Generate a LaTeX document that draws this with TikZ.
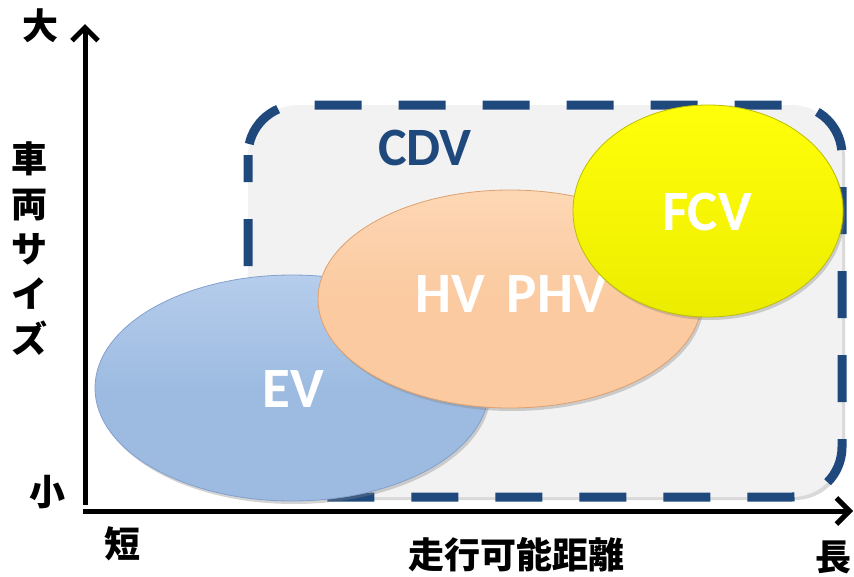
\documentclass[tikz,border=0pt]{standalone}
\usepackage{fontspec}
\setmainfont{Carlito}
\newfontfamily\jp{Noto Sans CJK JP}
\usetikzlibrary{arrows.meta,shadows,shapes.geometric}
\definecolor{cdvblue}{RGB}{31,73,125}
\definecolor{cdvfill}{RGB}{242,242,242}
\definecolor{evfill}{RGB}{157,187,225}
\definecolor{evtop}{RGB}{182,205,236}
\definecolor{evline}{RGB}{130,160,205}
\definecolor{hvfill}{RGB}{251,202,160}
\definecolor{hvtop}{RGB}{253,215,180}
\definecolor{hvline}{RGB}{222,160,110}
\definecolor{fcfill}{RGB}{236,236,0}
\definecolor{fctop}{RGB}{255,255,10}
\definecolor{fcline}{RGB}{190,190,0}
\tikzset{
  axisline/.style={line width=5pt, black, -{Straight Barb[length=13pt,width=26pt]}},
  jplabel/.style={font=\jp\bfseries\fontsize{36}{45}\selectfont, inner sep=0pt, align=center},
  blob/.style={ellipse, inner sep=0pt, line width=0.8pt,
     drop shadow={opacity=0.35, shadow xshift=2pt, shadow yshift=-3pt}},
  vlabel/.style={font=\bfseries\fontsize{57}{60}\selectfont, text=white},
}
\begin{document}
\begin{tikzpicture}[x=1pt,y=-1pt]
\useasboundingbox (0,0) rectangle (854,576);
% CDV region
\coordinate (r1) at (248,105);
\coordinate (r2) at (842,497);
\fill[cdvfill, rounded corners=50pt, drop shadow={opacity=0.3, shadow xshift=3pt, shadow yshift=-3pt}] (r1) rectangle (r2);
\draw[cdvblue, line width=9pt, dash pattern=on 47pt off 37pt, dash phase=20pt, rounded corners=50pt] (r1) rectangle (r2);
\node[font=\bfseries\fontsize{54}{58}\selectfont, text=cdvblue] (cdv) at (425,148) {CDV};
% ellipses
\node[blob, minimum width=394pt, minimum height=226pt, top color=evtop, bottom color=evfill, middle color=evfill, draw=evline] (ev) at (292,388) {};
\node[vlabel] (evt) at (293,389) {EV};
\node[blob, minimum width=384pt, minimum height=218pt, top color=hvtop, bottom color=hvfill, middle color=hvfill, draw=hvline] (hv) at (510,299) {};
\node[vlabel] (hvt) at (511,294) {HV\hspace*{22pt}PHV};
\node[blob, minimum width=270pt, minimum height=212pt, top color=fctop, bottom color=fcfill, draw=fcline] (fc) at (708,211) {};
\node[vlabel] (fct) at (707,212) {FCV};
% axes
\coordinate (yo) at (85,505);
\coordinate (yt) at (85,24);
\coordinate (xo) at (83,511);
\coordinate (xt) at (853,511);
\draw[axisline] (yo) -- (yt);
\draw[axisline] (xo) -- (xt);
% labels
\node[jplabel] (big) at (40,26) {大};
\node[jplabel] (small) at (47,492) {小};
\node[jplabel] (short) at (122,544) {短};
\node[jplabel] (long) at (833,557) {長};
\node[jplabel] (dist) at (516,555) {走行可能距離};
\node[jplabel] (size) at (30,249) {車\\両\\サ\\イ\\ズ};
\end{tikzpicture}
\end{document}
